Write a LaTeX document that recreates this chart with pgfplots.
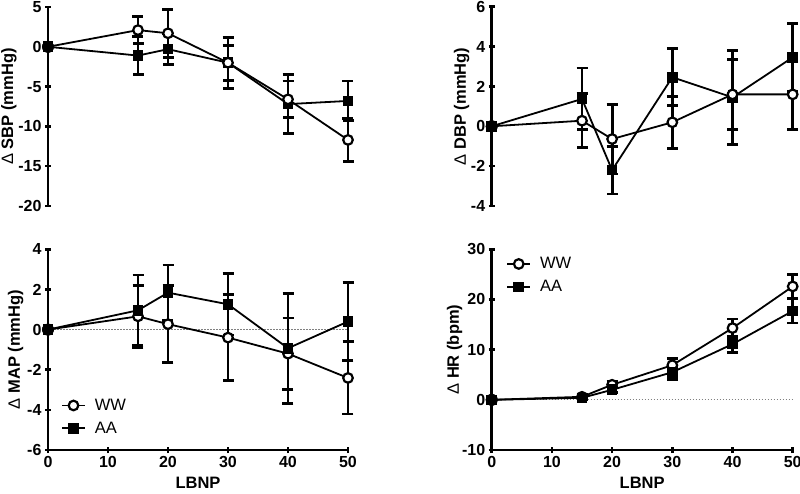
\documentclass[border=0pt]{standalone}
\usepackage{fontspec}
\setmainfont{Liberation Sans}
\usepackage{pgfplots}
\pgfplotsset{compat=1.18}

\pgfplotsset{
  panel/.style={
    scale only axis, width=300pt, height=200pt,
    xmin=0, xmax=50, clip=false,
    tick style={black, line width=2.6pt},
    major tick length=6pt, tick align=outside,
    tick label style={font=\fontsize{16}{18}\selectfont\bfseries},
    /pgf/number format/assume math mode=true,
    ylabel style={font=\fontsize{16.5}{18}\selectfont\bfseries, anchor=center},
    xlabel style={font=\fontsize{16.5}{18}\selectfont\bfseries, at={(axis description cs:0.5,0)}, anchor=center, yshift=-33pt},
    legend style={draw=none, fill=none, font=\fontsize{16.5}{18}\selectfont, inner sep=0pt, row sep=6pt},
    legend cell align=left,
    legend image code/.code={\draw[mark repeat=2,mark phase=2] plot coordinates {(0pt,0pt) (11.5pt,0pt) (23pt,0pt)};},
  },
  fixlines/.style={
    every outer x axis line/.append style={-},
    every outer y axis line/.append style={-},
    every inner x axis line/.append style={-},
    every inner y axis line/.append style={-},
    axis line style={-, line width=2.6pt, black},
  },
  ww/.style={black, line width=1.8pt, mark=*, mark size=4.8pt, mark options={fill=white, draw=black, line width=2.2pt, solid},
    error bars/.cd, y dir=both, y explicit, error bar style={line width=2.8pt, black}, error mark options={rotate=90, mark size=5.5pt, line width=2.8pt, black}},
  aa/.style={black, line width=1.8pt, mark=square*, mark size=4.4pt, mark options={fill=black, draw=black, solid},
    error bars/.cd, y dir=both, y explicit, error bar style={line width=2.8pt, black}, error mark options={rotate=90, mark size=5.5pt, line width=2.8pt, black}},
  origindot/.style={only marks, mark=*, mark size=5.8pt, black, forget plot},
  zeroline/.style={dash pattern=on 1.5pt off 1.5pt, gray, line width=0.8pt, forget plot, mark=none},
}

\begin{document}
\begin{tikzpicture}
\path[use as bounding box] (0,0) rectangle (800pt,493pt);

% Panel 1: SBP
\begin{axis}[panel, at={(48pt,287pt)}, anchor=south west, height=199pt,
  axis x line=none, axis y line=left, fixlines, ymin=-20, ymax=5, ytick={-20,-15,...,5},
  ylabel={{\mdseries Δ} SBP (mmHg)}, ylabel style={at={(axis description cs:-0.13,0.5)}}]
\addplot[aa] coordinates {(0,0)+-(0,0) (15,-1.1)+-(0,2.4) (20,-0.3)+-(0,1.9) (30,-2.0)+-(0,2.2) (40,-7.2)+-(0,3.7) (50,-6.8)+-(0,2.5)};
\addplot[ww] coordinates {(0,0)+-(0,0) (15,2.1)+-(0,1.7) (20,1.7)+-(0,3.0) (30,-2.0)+-(0,3.2) (40,-6.6)+-(0,2.3) (50,-11.7)+-(0,2.7)};
\addplot[origindot] coordinates {(0,0)};
\end{axis}

% Panel 2: DBP
\begin{axis}[panel, at={(491.7pt,287pt)}, anchor=south west, width=301pt, height=199.3pt,
  axis x line=none, axis y line=left, fixlines, ymin=-4, ymax=6, ytick={-4,-2,...,6},
  ylabel={{\mdseries Δ} DBP (mmHg)}, ylabel style={at={(axis description cs:-0.0997,0.5)}}]
\addplot[aa] coordinates {(0,0)+-(0,0) (15,1.37)+-(0,1.55) (20,-2.2)+-(0,1.2) (30,2.46)+-(0,1.43) (40,1.45)+-(0,2.35) (50,3.46)+-(0,1.7)};
\addplot[ww] coordinates {(0,0)+-(0,0) (15,0.28)+-(0,1.35) (20,-0.64)+-(0,1.75) (30,0.2)+-(0,1.3) (40,1.6)+-(0,1.75) (50,1.6)+-(0,1.75)};
\addplot[origindot] coordinates {(0,0)};
\end{axis}

% Panel 3: MAP
\begin{axis}[panel, at={(48pt,43pt)}, anchor=south west, height=200.7pt,
  axis x line=bottom, axis y line=left, fixlines, xtick={0,10,...,50}, ymin=-6, ymax=4, ytick={-6,-4,...,4},
  xlabel={LBNP},
  ylabel={{\mdseries Δ} MAP (mmHg)}, ylabel style={at={(axis description cs:-0.108,0.5)}},
  legend style={at={(axis description cs:0.043,0.065)}, anchor=south west}]
\addplot[zeroline] coordinates {(0,0) (50,0)};
\addplot[ww] coordinates {(0,0)+-(0,0) (15,0.66)+-(0,1.55) (20,0.27)+-(0,1.93) (30,-0.4)+-(0,2.13) (40,-1.2)+-(0,1.78) (50,-2.41)+-(0,1.8)};
\addlegendentry{\hspace{7pt}WW}
\addplot[aa] coordinates {(0,0)+-(0,0) (15,0.96)+-(0,1.76) (20,1.84)+-(0,1.38) (30,1.26)+-(0,1.53) (40,-0.93)+-(0,2.74) (50,0.4)+-(0,1.96)};
\addlegendentry{\hspace{7pt}AA}
\addplot[origindot] coordinates {(0,0)};
\end{axis}

% Panel 4: HR
\begin{axis}[panel, at={(491.7pt,43pt)}, anchor=south west, width=301pt, height=200.7pt,
  axis x line=bottom, axis y line=left, fixlines, xtick={0,10,...,50}, ymin=-10, ymax=30, ytick={-10,0,...,30},
  xlabel={LBNP},
  ylabel={{\mdseries Δ} HR (bpm)}, ylabel style={at={(axis description cs:-0.123,0.5)}},
  legend style={at={(axis description cs:0.048,0.97)}, anchor=north west}]
\addplot[zeroline] coordinates {(0,0) (50,0)};
\addplot[ww] coordinates {(0,0)+-(0,0) (15,0.6)+-(0,0.4) (20,3.0)+-(0,0.6) (30,6.9)+-(0,1.3) (40,14.3)+-(0,1.8) (50,22.6)+-(0,2.4)};
\addlegendentry{\hspace{7pt}WW}
\addplot[aa] coordinates {(0,0)+-(0,0) (15,0.4)+-(0,0.4) (20,2.0)+-(0,0.5) (30,5.5)+-(0,1.4) (40,11.1)+-(0,1.6) (50,17.7)+-(0,2.4)};
\addlegendentry{\hspace{7pt}AA}
\addplot[origindot] coordinates {(0,0)};
\end{axis}
\end{tikzpicture}
\end{document}
